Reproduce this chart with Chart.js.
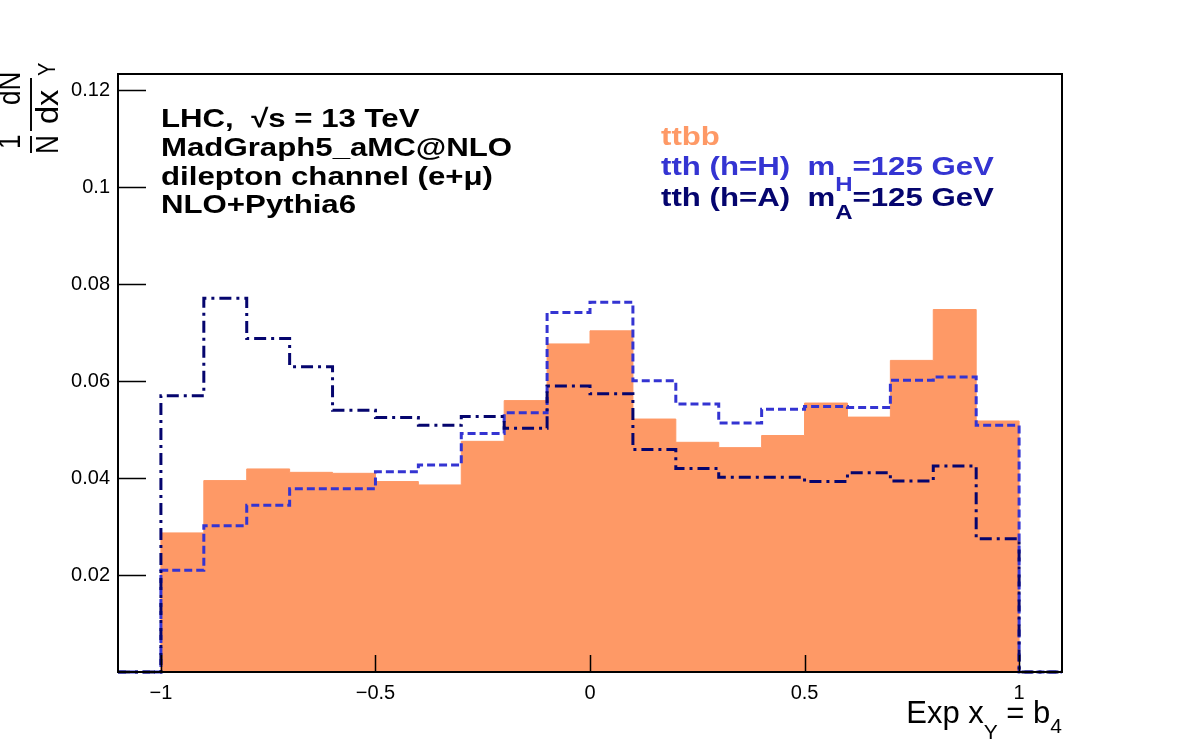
<!DOCTYPE html>
<html>
<head>
<meta charset="utf-8">
<script src="https://cdn.jsdelivr.net/npm/chart.js@4.4.0/dist/chart.umd.min.js"></script>
<style>
  html, body { margin: 0; padding: 0; background: #fff; }
  #wrap { width: 1182px; height: 748px; }
</style>
</head>
<body>
<div id="wrap"><canvas id="chart" width="1182" height="748"></canvas></div>
<script>
// bin edges of the histogram (20 bins from -1 to 1)
const binEdges = [-1.0, -0.9, -0.8, -0.7, -0.6, -0.5, -0.4, -0.3, -0.2, -0.1, 0.0,
                  0.1, 0.2, 0.3, 0.4, 0.5, 0.6, 0.7, 0.8, 0.9, 1.0];
const xRange = [-1.1, 1.1];
const yMax = 0.1234;

const ttbb = [0.0287, 0.0395, 0.0419, 0.0412, 0.0410, 0.0393, 0.0386, 0.0476, 0.0560, 0.0677,
              0.0704, 0.0522, 0.0474, 0.0463, 0.0488, 0.0555, 0.0526, 0.0643, 0.0748, 0.0518];
const tthH = [0.0210, 0.0302, 0.0344, 0.0378, 0.0378, 0.0413, 0.0427, 0.0492, 0.0535, 0.0742,
              0.0763, 0.0601, 0.0553, 0.0514, 0.0542, 0.0548, 0.0546, 0.0602, 0.0609, 0.0509];
const tthA = [0.0570, 0.0771, 0.0688, 0.0630, 0.0540, 0.0525, 0.0509, 0.0527, 0.0503, 0.0590,
              0.0574, 0.0459, 0.0420, 0.0402, 0.0402, 0.0393, 0.0411, 0.0394, 0.0425, 0.0275];

const xTicks = [-1, -0.5, 0, 0.5, 1];
const yTicks = [0.02, 0.04, 0.06, 0.08, 0.1, 0.12];

const ORANGE = "#fe9966";
const BLUE = "#3434d2";
const NAVY = "#05056e";
const FONT = "'Liberation Sans', Arial, Helvetica, sans-serif";

// step outline: empty edge bins on both sides, as in the plot
function histPoints(vals) {
    const pts = [{ x: xRange[0], y: 0 }];
    vals.forEach((v, i) => pts.push({ x: binEdges[i], y: v }));
    pts.push({ x: binEdges[binEdges.length - 1], y: 0 });
    pts.push({ x: xRange[1], y: 0 });
    return pts;
}

function fmt(v) {
    return String(v).replace("-", "\u2212");
}

// text with sub-scripted pieces: parts = [[text, font, dy], ...]
function drawParts(ctx, x, y, parts, color, sx) {
    ctx.save();
    ctx.translate(x, y);
    ctx.scale(sx || 1, 1);
    ctx.fillStyle = color;
    ctx.textBaseline = "alphabetic";
    ctx.textAlign = "left";
    let cx = 0;
    parts.forEach(([t, f, dy]) => {
        ctx.font = f;
        ctx.fillText(t, cx, dy || 0);
        cx += ctx.measureText(t).width;
    });
    ctx.restore();
}

const rootDecor = {
    id: "rootDecor",
    afterDraw(chart) {
        const { ctx, chartArea: ca, scales } = chart;
        const sx = scales.x, sy = scales.y;
        ctx.save();
        // frame
        ctx.strokeStyle = "#000";
        ctx.lineWidth = 2;
        ctx.strokeRect(ca.left, ca.top, ca.right - ca.left, ca.bottom - ca.top);
        // inward tick marks
        ctx.lineWidth = 1.5;
        ctx.beginPath();
        yTicks.forEach(v => {
            const y = Math.round(sy.getPixelForValue(v)) + 0.5;
            ctx.moveTo(ca.left, y);
            ctx.lineTo(ca.left + 28, y);
        });
        xTicks.forEach(v => {
            const x = Math.round(sx.getPixelForValue(v)) + 0.5;
            ctx.moveTo(x, ca.bottom);
            ctx.lineTo(x, ca.bottom - 17);
        });
        ctx.stroke();
        ctx.restore();

        // info block
        const B = "bold 26px " + FONT;
        drawParts(ctx, 161, 127, [["LHC,  \u221As = 13 TeV", B]], "#000", 1.2);
        drawParts(ctx, 161, 156, [["MadGraph5_aMC@NLO", B]], "#000", 1.2);
        drawParts(ctx, 161, 185, [["dilepton channel (e+\u03BC)", B]], "#000", 1.2);
        drawParts(ctx, 161, 213, [["NLO+Pythia6", B]], "#000", 1.2);

        // legend block
        const S = "bold 20px " + FONT;
        drawParts(ctx, 661, 145, [["ttbb", B]], ORANGE, 1.2);
        drawParts(ctx, 661, 175, [["tth (h=H)  m", B], ["H", S, 16], ["=125 GeV", B]], BLUE, 1.2);
        drawParts(ctx, 661, 206, [["tth (h=A)  m", B], ["A", S, 13], ["=125 GeV", B]], NAVY, 1.2);

        // x axis title
        const T = "31px " + FONT, Ts = "21px " + FONT;
        ctx.save();
        const parts = [["Exp x", T], ["Y", Ts, 16], [" = b", T], ["4", Ts, 10]];
        let w = 0;
        parts.forEach(([t, f]) => { ctx.font = f; w += ctx.measureText(t).width; });
        ctx.restore();
        drawParts(ctx, ca.right - w, 723, parts, "#000", 1);

        // y axis title: 1/N dN/dx_Y, rotated (u = -screenY, v = screenX / 1.2)
        ctx.save();
        ctx.rotate(-Math.PI / 2);
        ctx.scale(1, 1.2);
        ctx.fillStyle = "#000";
        ctx.textAlign = "left";
        ctx.textBaseline = "alphabetic";
        ctx.font = "26px " + FONT;
        const barV = 31 / 1.2;
        // 1/N
        ctx.fillText("1", -149, 20 / 1.2);
        ctx.fillText("N", -154, 58 / 1.2);
        ctx.fillRect(-153, barV - 0.8, 17, 1.6);
        // dN/dx_Y
        ctx.fillText("dN", -105, 20 / 1.2);
        ctx.save();
        ctx.scale(1.25, 1);
        ctx.fillText("dx", -124 / 1.25, 58 / 1.2);
        ctx.restore();
        ctx.font = "20px " + FONT;
        ctx.fillText("Y", -76, 55 / 1.2);
        ctx.fillRect(-131, barV - 0.8, 53, 1.6);
        ctx.restore();
    }
};

new Chart(document.getElementById("chart"), {
    type: "line",
    data: {
        datasets: [
            {
                label: "tth (h=A)",
                data: histPoints(tthA),
                stepped: "before",
                borderColor: NAVY,
                borderWidth: 3,
                borderDash: [12, 5, 3, 5],
                pointRadius: 0,
                fill: false,
                clip: 6,
                order: 1,
            },
            {
                label: "tth (h=H)",
                data: histPoints(tthH),
                stepped: "before",
                borderColor: BLUE,
                borderWidth: 3,
                borderDash: [8, 4],
                pointRadius: 0,
                fill: false,
                clip: 6,
                order: 2,
            },
            {
                label: "ttbb",
                data: histPoints(ttbb),
                stepped: "before",
                borderColor: ORANGE,
                backgroundColor: ORANGE,
                borderWidth: 1,
                pointRadius: 0,
                fill: "origin",
                order: 3,
            },
        ],
    },
    options: {
        responsive: false,
        animation: false,
        events: [],
        layout: { padding: { top: 74, right: 120, left: 0, bottom: 0 } },
        plugins: { legend: { display: false }, tooltip: { enabled: false } },
        scales: {
            x: {
                type: "linear",
                min: xRange[0],
                max: xRange[1],
                afterBuildTicks: s => { s.ticks = xTicks.map(v => ({ value: v })); },
                afterFit: s => { s.height = 76; },
                grid: { display: false, drawTicks: false },
                border: { display: false },
                ticks: {
                    color: "#000",
                    padding: 9,
                    maxRotation: 0,
                    font: { family: FONT, size: 20 },
                    callback: v => fmt(v),
                },
            },
            y: {
                type: "linear",
                min: 0,
                max: yMax,
                afterBuildTicks: s => { s.ticks = yTicks.map(v => ({ value: v })); },
                afterFit: s => { s.width = 118; },
                grid: { display: false, drawTicks: false },
                border: { display: false },
                ticks: {
                    color: "#000",
                    padding: 8,
                    font: { family: FONT, size: 20 },
                    callback: v => fmt(v),
                },
            },
        },
    },
    plugins: [rootDecor],
});
</script>
</body>
</html>
